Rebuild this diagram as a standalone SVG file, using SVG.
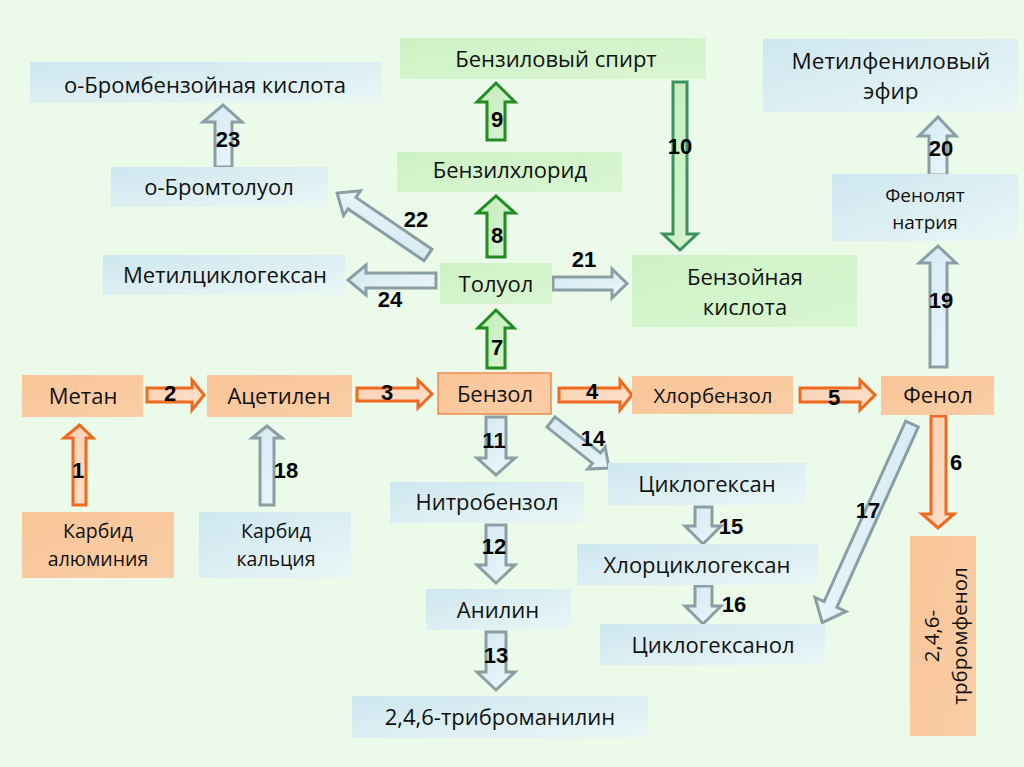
<svg xmlns="http://www.w3.org/2000/svg" width="1024" height="767" viewBox="0 0 1024 767">
<defs>
<linearGradient id="gBlue" x1="0" y1="0" x2="1" y2="1"><stop offset="0" stop-color="#cee7f0"/><stop offset="1" stop-color="#eaf6f5"/></linearGradient>
<linearGradient id="gGreen" x1="0" y1="0" x2="1" y2="1"><stop offset="0" stop-color="#cdf2c5"/><stop offset="1" stop-color="#d9f6d2"/></linearGradient>
<linearGradient id="gPeach" x1="0" y1="0" x2="1" y2="1"><stop offset="0" stop-color="#f9c598"/><stop offset="1" stop-color="#fbcda6"/></linearGradient>
<linearGradient id="gAO" x1="0" y1="0" x2="1" y2="1"><stop offset="0" stop-color="#fbcfae"/><stop offset="1" stop-color="#fde3cf"/></linearGradient>
<linearGradient id="gAG" x1="0" y1="0" x2="1" y2="1"><stop offset="0" stop-color="#c3ecba"/><stop offset="1" stop-color="#d9f5d2"/></linearGradient>
<linearGradient id="gAB" x1="0" y1="0" x2="1" y2="1"><stop offset="0" stop-color="#d2e8f2"/><stop offset="1" stop-color="#eef7fa"/></linearGradient>
</defs>
<style>
.nb{fill:url(#gBlue)}
.ng{fill:url(#gGreen)}
.np{fill:url(#gPeach)}
.t{font-family:"Open Sans","Noto Sans",sans-serif;font-size:22px;fill:#111;text-anchor:middle}
.tm{font-size:20.5px}
.tc{font-size:19.5px}
.ts{font-size:19px}
.tl{font-size:22.5px}
.ao{fill:url(#gAO);stroke:#f0691e;stroke-width:3;stroke-linejoin:miter}
.ag{fill:url(#gAG);stroke:#228b22;stroke-width:3}
.ag2{fill:url(#gAG);stroke:#3a9160;stroke-width:3}
.ab{fill:url(#gAB);stroke:#8a9fa4;stroke-width:3}
.n{font-family:"Liberation Sans",Arial,sans-serif;font-weight:bold;font-size:22px;fill:#000;text-anchor:middle}
</style>
<rect width="1024" height="767" fill="#ecfbe9"/>

<g id="connectors">
<path id="a1" class="ao" d="M73,505 L73,438 L64,438 L79.5,425 L93,438 L86,438 L86,505 Z"/>
<path id="a18" class="ab" d="M260,505 L260,438 L252,438 L267,426 L282,438 L274,438 L274,505 Z"/>
<path id="a2" class="ao" d="M147,388 L192,388 L192,380 L204,395 L192,410 L192,402 L147,402 Z"/>
<path id="a3" class="ao" d="M357,388 L418,388 L418,380 L432,394 L418,408 L418,401 L357,401 Z"/>
<path id="a4" class="ao" d="M559,388 L620,388 L620,380 L632,395 L620,410 L620,402 L559,402 Z"/>
<path id="a5" class="ao" d="M800,388 L860,388 L860,380 L875,395 L860,410 L860,402 L800,402 Z"/>
<path id="a6" class="ao" d="M931,416 L931,514 L922,514 L938,528 L954,514 L946,514 L946,416 Z"/>
<path id="a7" class="ag" d="M487,368 L487,328 L478,328 L496,310 L514,328 L505,328 L505,368 Z"/>
<path id="a8" class="ag" d="M487,257 L487,213 L477,213 L496,196 L515,213 L505,213 L505,257 Z"/>
<path id="a9" class="ag" d="M487,140 L487,102 L477,102 L496,83 L515,102 L505,102 L505,140 Z"/>
<path id="a10" class="ag2" d="M673,82 L673,234 L663,234 L680,250 L697,234 L687,234 L687,82 Z"/>
<path id="a21" class="ab" d="M553,277 L612,277 L612,269 L627,283.5 L612,298 L612,290 L553,290 Z"/>
<path id="a24" class="ab" d="M436,273 L366,273 L366,265 L348,280 L366,295 L366,288 L436,288 Z"/>
<path id="a22" class="ab" transform="translate(428,255) rotate(214.3)" d="M0,-7 L92,-7 L92,-15 L110,0 L92,15 L92,7 L0,7 Z"/>
<path id="a23" class="ab" d="M215,167 L215,122 L203,122 L223,105 L242,122 L232,122 L232,167 Z"/>
<path id="a20" class="ab" d="M929,175 L929,136 L919,136 L938,117 L956,136 L947,136 L947,175 Z"/>
<path id="a19" class="ab" d="M930,367 L930,263 L919,263 L938,246 L956,263 L947,263 L947,367 Z"/>
<path id="a11" class="ab" d="M486,417 L486,458 L477,458 L496,475 L515,458 L506,458 L506,417 Z"/>
<path id="a12" class="ab" d="M486,525 L486,565 L477,565 L496,583 L515,565 L506,565 L506,525 Z"/>
<path id="a13" class="ab" d="M486,632 L486,672 L477,672 L496,690 L515,672 L506,672 L506,632 Z"/>
<path id="a14" class="ab" transform="translate(551,422) rotate(38.4)" d="M0,-6.5 L58,-6.5 L58,-14 L74,0 L58,14 L58,6.5 L0,6.5 Z"/>
<path id="a15" class="ab" d="M695,507 L695,526 L685,526 L703,544 L721,526 L712,526 L712,507 Z"/>
<path id="a16" class="ab" d="M695,586 L695,606 L685,606 L703,624 L721,606 L712,606 L712,586 Z"/>
<path id="a17" class="ab" transform="translate(912,424) rotate(114.3)" d="M0,-7 L198,-7 L198,-17 L218,0 L198,17 L198,7 L0,7 Z"/>

<text class="n" x="78" y="478">1</text>
<text class="n" x="170" y="401">2</text>
<text class="n" x="387" y="400">3</text>
<text class="n" x="592" y="399">4</text>
<text class="n" x="834" y="405">5</text>
<text class="n" x="956" y="470">6</text>
<text class="n" x="497" y="355">7</text>
<text class="n" x="497" y="243">8</text>
<text class="n" x="497" y="127">9</text>
<text class="n" x="680" y="154">10</text>
<text class="n" x="494" y="448">11</text>
<text class="n" x="494" y="554">12</text>
<text class="n" x="496" y="663">13</text>
<text class="n" x="593" y="446">14</text>
<text class="n" x="731" y="534">15</text>
<text class="n" x="734" y="612">16</text>
<text class="n" x="868" y="518">17</text>
<text class="n" x="286" y="478">18</text>
<text class="n" x="941" y="308">19</text>
<text class="n" x="941" y="156">20</text>
<text class="n" x="584" y="267">21</text>
<text class="n" x="416" y="227">22</text>
<text class="n" x="228" y="147">23</text>
<text class="n" x="390" y="307">24</text>
</g>

<g id="n-obromacid"><rect class="nb" x="30" y="62" width="352" height="41"/><text class="t" x="205" y="93">о-Бромбензойная кислота</text></g>
<g id="n-obromtol"><rect class="nb" x="111" y="167" width="217" height="40"/><text class="t" x="219" y="195">о-Бромтолуол</text></g>
<g id="n-methylcyclohexane"><rect class="nb" x="103" y="255" width="242" height="40"/><text class="t" x="225" y="283">Метилциклогексан</text></g>
<g id="n-methylphenylether"><rect class="nb" x="763" y="39" width="255" height="73"/><text class="t tl" x="891" y="69">Метилфениловый</text><text class="t tl" x="891" y="99">эфир</text></g>
<g id="n-phenolate"><rect class="nb" x="832" y="174" width="186" height="67"/><text class="t ts" x="925" y="202">Фенолят</text><text class="t ts" x="925" y="229">натрия</text></g>
<g id="n-nitrobenzene"><rect class="nb" x="390" y="482" width="194" height="41"/><text class="t" x="487" y="510">Нитробензол</text></g>
<g id="n-aniline"><rect class="nb" x="426" y="589" width="145" height="41"/><text class="t" x="498" y="618">Анилин</text></g>
<g id="n-tribromaniline"><rect class="nb" x="352" y="696" width="296" height="42"/><text class="t" x="500" y="725">2,4,6-триброманилин</text></g>
<g id="n-cyclohexane"><rect class="nb" x="608" y="463" width="198" height="42"/><text class="t" x="707" y="492">Циклогексан</text></g>
<g id="n-chlorocyclohexane"><rect class="nb" x="577" y="544" width="241" height="41"/><text class="t" x="697" y="573">Хлорциклогексан</text></g>
<g id="n-cyclohexanol"><rect class="nb" x="600" y="624" width="225" height="41"/><text class="t" x="713" y="653">Циклогексанол</text></g>
<g id="n-cacarbide"><rect class="nb" x="199" y="512" width="152" height="66"/><text class="t tc" x="276" y="538">Карбид</text><text class="t tc" x="276" y="566">кальция</text></g>

<g id="n-benzylalcohol"><rect class="ng" x="400" y="38" width="306" height="41"/><text class="t" x="556" y="67">Бензиловый спирт</text></g>
<g id="n-benzylchloride"><rect class="ng" x="397" y="152" width="225" height="40"/><text class="t" x="510" y="178">Бензилхлорид</text></g>
<g id="n-toluene"><rect class="ng" x="440" y="263" width="112" height="41"/><text class="t" x="496" y="292">Толуол</text></g>
<g id="n-benzoicacid"><rect class="ng" x="632" y="255" width="225" height="72"/><text class="t" x="745" y="285">Бензойная</text><text class="t" x="745" y="315">кислота</text></g>

<g id="n-methane"><rect class="np" x="22" y="375" width="121" height="42"/><text class="t" x="83" y="404">Метан</text></g>
<g id="n-acetylene"><rect class="np" x="207" y="375" width="145" height="42"/><text class="t" x="279" y="404">Ацетилен</text></g>
<g id="n-benzene"><rect class="np" x="438" y="373" width="113" height="41" stroke="#f08a4f" stroke-width="1.5"/><text class="t" x="495" y="402">Бензол</text></g>
<g id="n-chlorobenzene"><rect class="np" x="632" y="376" width="161" height="38"/><text class="t tm" x="713" y="403">Хлорбензол</text></g>
<g id="n-phenol"><rect class="np" x="881" y="376" width="113" height="39"/><text class="t" x="938" y="403">Фенол</text></g>
<g id="n-alcarbide"><rect class="np" x="22" y="512" width="152" height="66"/><text class="t tc" x="98" y="538">Карбид</text><text class="t tc" x="98" y="566">алюминия</text></g>
<g id="n-tribromphenol"><rect class="np" x="910" y="536" width="66" height="200"/><text class="t tm" transform="translate(943,636) rotate(-90)"><tspan x="0" y="-4">2,4,6-</tspan><tspan x="0" y="24">трбромфенол</tspan></text></g>
</svg>
